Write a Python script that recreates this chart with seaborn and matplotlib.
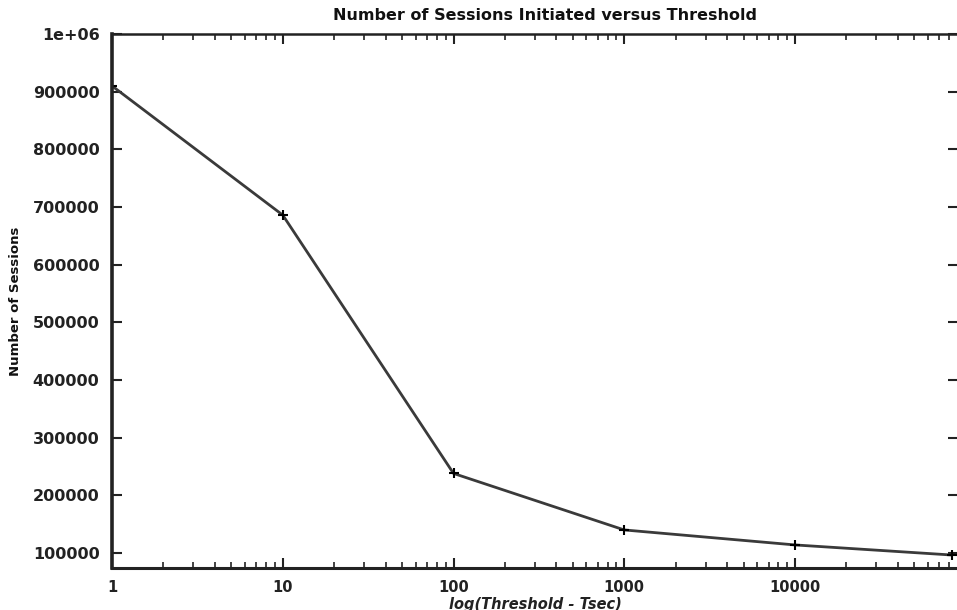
import matplotlib
matplotlib.use("Agg")
import matplotlib.pyplot as plt
import matplotlib.ticker as mticker
import numpy as np
import pandas as pd
import seaborn as sns

# values
thresholds = [1, 10, 100, 1000, 10000, 83000]
sessions = [910000, 686000, 238000, 140000, 114000, 96500]

y_ticks = [100000, 200000, 300000, 400000, 500000, 600000, 700000, 800000, 900000, 1000000]
y_tick_labels = ["100000", "200000", "300000", "400000", "500000",
                 "600000", "700000", "800000", "900000", "1e+06"]
x_ticks = [1, 10, 100, 1000, 10000]
x_tick_labels = ["1", "10", "100", "1000", "10000"]

title = "Number of Sessions Initiated versus Threshold"
x_label = "log(Threshold - Tsec)"
y_label = "Number of Sessions"

sns.set_style("ticks")
plt.rcParams["font.family"] = ["DejaVu Sans"]

frame = pd.DataFrame({"threshold": thresholds, "sessions": sessions})

fig = plt.figure(figsize=(9.57, 6.10), dpi=100)
ax = fig.add_axes([112 / 957, 1 - 568 / 610, (958 - 112) / 957, (568 - 34) / 610])

sns.lineplot(data=frame, x="threshold", y="sessions", ax=ax,
             color="#3a3a3a", linewidth=2.0, marker="+", markersize=7,
             markeredgecolor="black", markeredgewidth=1.5)

ax.set_xscale("log")
ax.set_xlim(1, 10 ** (846 / 170.75))
ax.set_ylim(74000, 1000000)

ax.xaxis.set_major_locator(mticker.FixedLocator(x_ticks))
ax.xaxis.set_major_formatter(mticker.FixedFormatter(x_tick_labels))
ax.xaxis.set_minor_locator(mticker.LogLocator(base=10, subs=np.arange(2, 10)))
ax.xaxis.set_minor_formatter(mticker.NullFormatter())
ax.set_yticks(y_ticks)
ax.set_yticklabels(y_tick_labels)

ax.tick_params(axis="both", which="both", direction="in", top=True, right=True,
               color="#222222", labelcolor="#222222")
ax.tick_params(axis="both", which="major", length=7, width=1.5, pad=9)
ax.tick_params(axis="x", which="major", labelsize=10.5)
ax.tick_params(axis="y", which="major", labelsize=11.5)
ax.tick_params(axis="x", which="minor", length=4, width=1.2)
for lab in ax.get_xticklabels() + ax.get_yticklabels():
    lab.set_fontweight("bold")

for side in ["left", "bottom", "top", "right"]:
    ax.spines[side].set_color("#222222")
ax.spines["left"].set_linewidth(2.6)
ax.spines["bottom"].set_linewidth(2.2)
ax.spines["top"].set_linewidth(1.8)
ax.spines["right"].set_linewidth(1.8)

ax.set_title(title, fontsize=11.5, fontweight="bold", pad=10, color="#111111", x=0.512)
ax.set_xlabel(x_label, fontsize=10.5, fontweight="bold", style="italic",
              labelpad=1, color="#222222")
ax.set_ylabel(y_label, fontsize=9.5, fontweight="bold", color="#111111")
# label sits about 15 px from the left edge of the figure
ax.yaxis.set_label_coords(-90 / 846, 0.5)

fig.savefig("out.png", dpi=100)
